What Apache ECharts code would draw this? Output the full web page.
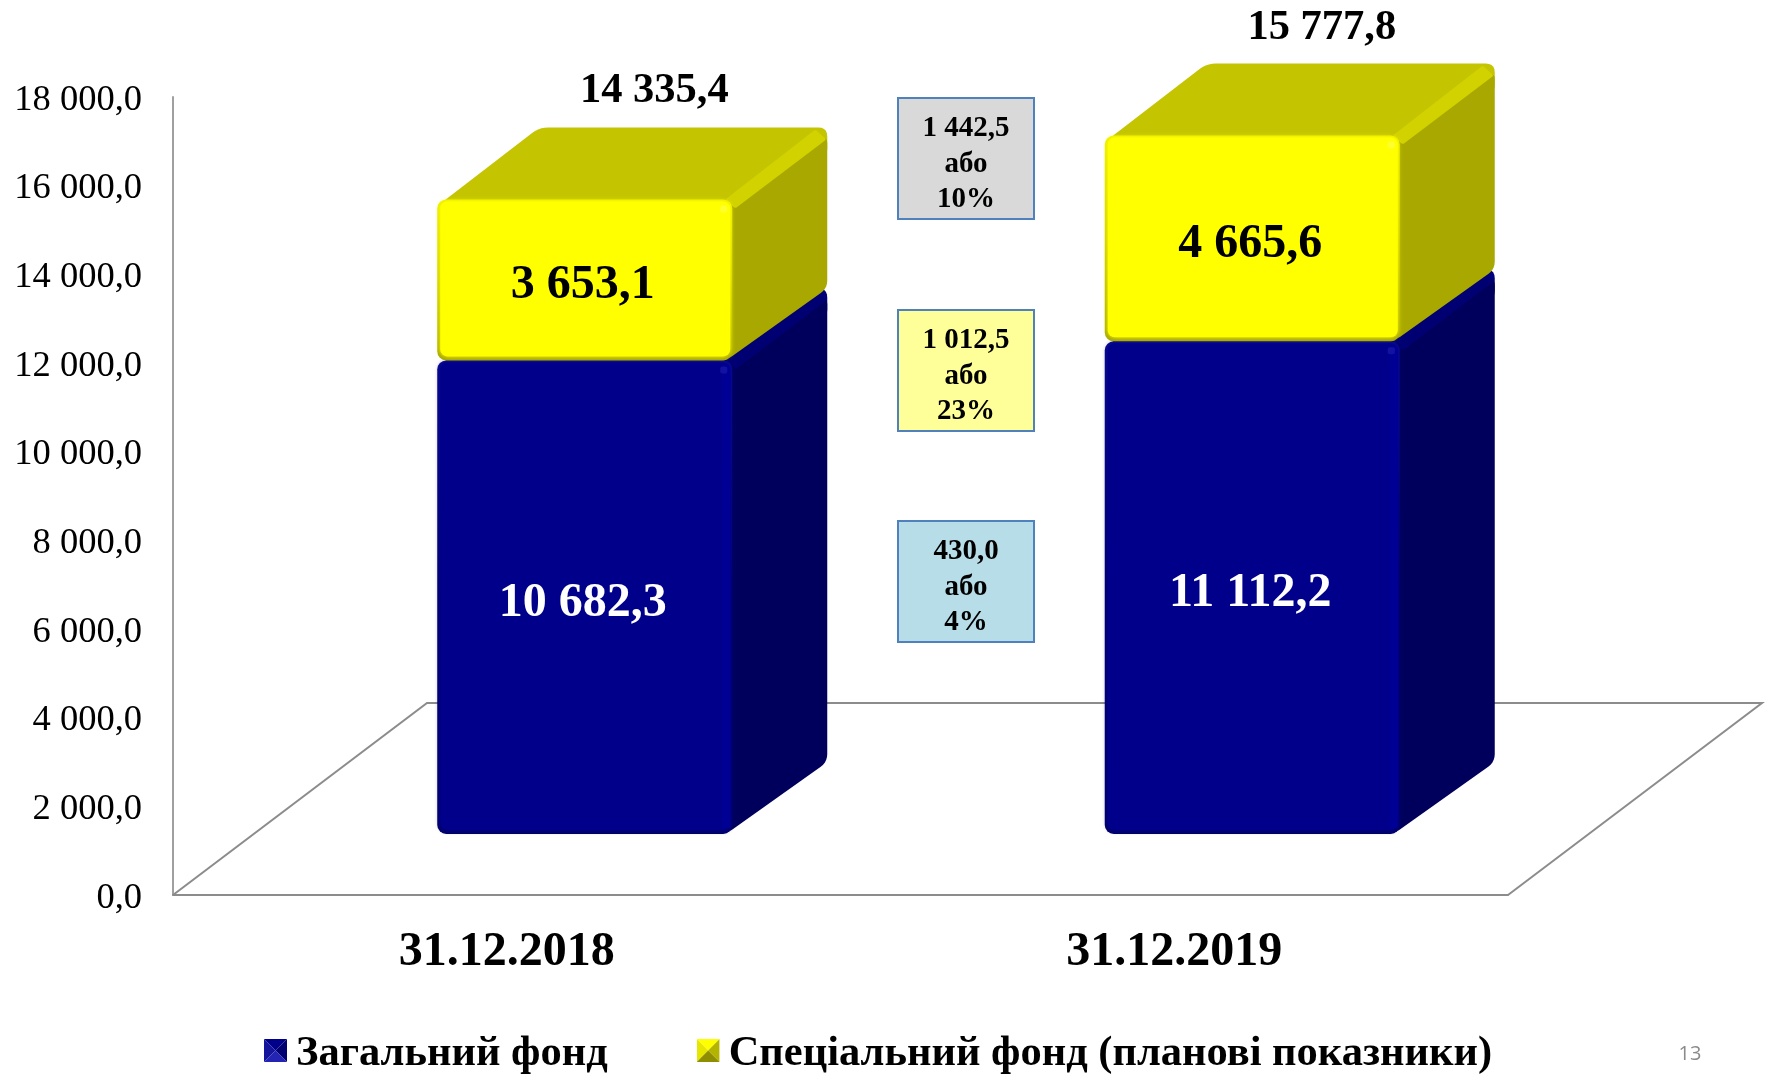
<!DOCTYPE html>
<html><head><meta charset="utf-8">
<style>html,body{margin:0;padding:0;background:#fff}#c{width:1766px;height:1075px}</style>
<script src="https://cdn.jsdelivr.net/npm/echarts@6/dist/echarts.min.js"></script>
</head><body><div id="c"></div>
<script>
const categories = ['31.12.2018', '31.12.2019'];
const generalFund = [10682.3, 11112.2];
const specialFund = [3653.1, 4665.6];
const totals = [14335.4, 15777.8];
const seriesNames = ['Загальний фонд', 'Спеціальний фонд (планові показники)'];
const deltaValues = ['1 442,5', '1 012,5', '430,0'];
const deltaPercents = ['10%', '23%', '4%'];
const deltaFills = ['#d9d9d9', '#ffff99', '#b7dde8'];
const yTicks = [0, 2000, 4000, 6000, 8000, 10000, 12000, 14000, 16000, 18000];

const SERIF = '"Liberation Serif","Times New Roman",serif';
const fmt = v => {
  const [i, d] = v.toFixed(1).split('.');
  return i.replace(/\B(?=(\d{3})+$)/g, ' ') + ',' + d;
};
// 3D projection constants
const FLOOR_DX = 254, FLOOR_DY = 192, LIFT = 61, SHIFT = 81, BAR_W = 295, DEP_X = 95, DEP_Y = 72;
const PAL = {
  blue: {front:'#00008b', edgeT:'#0a0a90', edgeB:'#00006a', edgeL:'#00006e', side:'#00005c', top:'#00007a', ridge:'#000072', spot:'#1a1aa8', text:'#fff'},
  yellow: {front:'#ffff00', edgeT:'#eeee00', edgeB:'#a4a400', edgeL:'#cfcf00', side:'#a8a800', top:'#c4c400', ridge:'#d2d200', spot:'#ffff40', text:'#000'}
};
function rounded(pts, r) {
  const out = [], n = pts.length;
  for (let i = 0; i < n; i++) {
    const p = pts[i], a = pts[(i + n - 1) % n], b = pts[(i + 1) % n];
    const la = Math.hypot(a[0]-p[0], a[1]-p[1]), lb = Math.hypot(b[0]-p[0], b[1]-p[1]);
    const ra = Math.min(r, la/2), rb = Math.min(r, lb/2);
    const s = [p[0]+(a[0]-p[0])*ra/la, p[1]+(a[1]-p[1])*ra/la];
    const e = [p[0]+(b[0]-p[0])*rb/lb, p[1]+(b[1]-p[1])*rb/lb];
    for (let k = 0; k <= 5; k++) {
      const t = k/5, u = 1-t;
      out.push([u*u*s[0]+2*u*t*p[0]+t*t*e[0], u*u*s[1]+2*u*t*p[1]+t*t*e[1]]);
    }
  }
  return out;
}
function barRenderer(paletteName, withTotal) {
  const c = PAL[paletteName];
  return function (params, api) {
    const idx = api.value(0), base = api.value(1), top = api.value(2), val = api.value(3);
    const cx = api.coord([idx, 0])[0];
    const xL = cx + SHIFT - BAR_W/2 - 3, xR = xL + BAR_W;
    const yB = api.coord([idx, base])[1] - LIFT;
    const yT = api.coord([idx, top])[1] - LIFT + (withTotal ? 1 : 0);
    const kids = [];
    const poly = (pts, fill, r) => kids.push({type:'polygon', shape:{points: r ? rounded(pts, r) : pts}, style:{fill}});
    // top face (includes the rounded back corner)
    poly([[xL+2,yT+5],[xL+102,yT-DEP_Y],[xR+DEP_X,yT-DEP_Y],[xR+DEP_X,yT-DEP_Y+30],[xR-4,yT+8]], c.top, 9);
    // side face
    poly([[xR-6,yT+8],[xR+DEP_X,yT-DEP_Y+8],[xR+DEP_X,yB-DEP_Y],[xR-6,yB]], c.side, 8);
    // ridge between top and side
    poly([[xR-7,yT],[xR+DEP_X-12,yT-DEP_Y+2],[xR+DEP_X-1,yT-DEP_Y+12],[xR+3,yT+9]], c.ridge, 2);
    // front face: bevel layers
    kids.push({type:'rect', shape:{x:xL,y:yT,width:BAR_W,height:yB-yT,r:9},
      style:{fill:{type:'linear',x:0,y:0,x2:0,y2:1,colorStops:[{offset:0,color:c.edgeT},{offset:0.5,color:c.edgeL},{offset:1,color:c.edgeB}]}}});
    kids.push({type:'rect', shape:{x:xL+3,y:yT+2,width:BAR_W-5,height:yB-yT-6,r:7},
      style:{fill:c.front, shadowBlur:5, shadowColor:c.front}});
    if (paletteName === 'blue') {
      kids.push({type:'rect', shape:{x:xR-10,y:yT+6,width:8,height:yB-yT-12}, style:{fill:'#00009a', opacity:0.7}});
    }
    kids.push({type:'rect', shape:{x:xR-12,y:yT+6,width:7,height:7,r:2}, style:{fill:c.spot, opacity:0.7}});
    // value label
    kids.push({type:'text', style:{text:fmt(val), x:(xL+xR)/2-2, y:(yT+yB)/2+6, fill:c.text,
      font:'bold 48px '+SERIF, align:'center', verticalAlign:'middle'}});
    if (withTotal) {
      kids.push({type:'text', style:{text:fmt(totals[params.dataIndex]), x:xL+217, y:yT-DEP_Y-36, fill:'#000',
        font:'bold 42.5px '+SERIF, align:'center', verticalAlign:'middle'}});
    }
    return {type:'group', children:kids};
  };
}
function floorRenderer(params) {
  const s = params.coordSys, l = s.x, r = s.x+s.width, b = s.y+s.height;
  return {type:'polyline', shape:{points:[[r,b],[r+FLOOR_DX,b-FLOOR_DY],[l+FLOOR_DX,b-FLOOR_DY],[l,b]]},
    style:{fill:'none', stroke:'#8c8c8c', lineWidth:2}};
}
const icon = (t,l,r,b) => 'image://data:image/svg+xml,' + encodeURIComponent(
  `<svg xmlns="http://www.w3.org/2000/svg" width="23" height="31" viewBox="0 0 23 31"><polygon points="0,0 23,0 11.5,11.5" fill="${t}"/><polygon points="0,0 0,23 11.5,11.5" fill="${l}"/><polygon points="23,0 23,23 11.5,11.5" fill="${r}"/><polygon points="0,23 23,23 11.5,11.5" fill="${b}"/></svg>`);

const deltaBoxes = deltaValues.map((v, i) => {
  const top = [98, 310, 521][i];
  return {type:'group', children:[
    {type:'rect', shape:{x:898,y:top,width:136,height:121}, style:{fill:deltaFills[i], stroke:'#4f81bd', lineWidth:2}},
    ...[v,'або',deltaPercents[i]].map((t, k) => ({type:'text', style:{text:t, x:966, y:top+31+k*35.5, fill:'#000',
      font:'bold 29px '+SERIF, align:'center', verticalAlign:'middle'}}))
  ]};
});

const chart = echarts.init(document.getElementById('c'), null, {renderer:'canvas'});
chart.setOption({
  animation:false,
  backgroundColor:'#fff',
  grid:{left:173, right:258, top:97, bottom:180},
  xAxis:{type:'category', data:categories, axisTick:{show:false},
    axisLine:{lineStyle:{color:'#8c8c8c', width:2}},
    axisLabel:{fontFamily:SERIF, fontSize:48, fontWeight:'bold', color:'#000', margin:34}},
  yAxis:{type:'value', min:yTicks[0], max:yTicks[yTicks.length-1], interval:yTicks[1]-yTicks[0],
    splitLine:{show:false}, axisTick:{show:false},
    axisLine:{show:true, lineStyle:{color:'#a0a0a0', width:2}},
    axisLabel:{fontFamily:SERIF, fontSize:36.5, color:'#000', margin:31, verticalAlign:'top', lineHeight:6, formatter:fmt}},
  legend:{left:264, top:1033, padding:0, itemWidth:23, itemHeight:31, itemGap:89,
    data:[{name:seriesNames[0], icon:icon('#00008b','#14149c','#000070','#2424b4')},
          {name:seriesNames[1], icon:icon('#ffff00','#e6e600','#b4b400','#8e8e00')}],
    textStyle:{fontFamily:SERIF, fontSize:42.5, fontWeight:'bold', color:'#000', padding:[0,0,0,4]}},
  graphic:{elements:[...deltaBoxes,
    {type:'text', style:{text:'13', x:1690, y:1054, fill:'#8b8b8b', font:'20px "Open Sans",sans-serif', align:'center', verticalAlign:'middle'}}]},
  series:[
    {type:'custom', name:'floor', silent:true, data:[[0]], renderItem:floorRenderer, z:1, tooltip:{show:false}},
    {type:'custom', name:seriesNames[0], z:2, itemStyle:{color:'#00008b'},
      data:generalFund.map((v,i)=>[i,0,v,v]), renderItem:barRenderer('blue',false)},
    {type:'custom', name:seriesNames[1], z:3, itemStyle:{color:'#ffff00'},
      data:specialFund.map((v,i)=>[i,generalFund[i],generalFund[i]+v,v]), renderItem:barRenderer('yellow',true)}
  ]
});
</script></body></html>
